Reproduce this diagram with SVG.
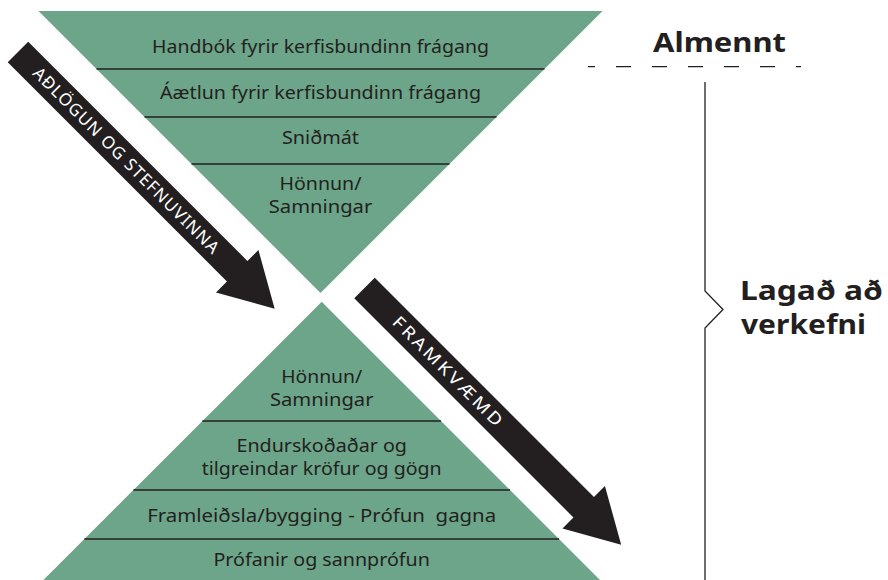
<svg xmlns="http://www.w3.org/2000/svg" width="888" height="580" viewBox="0 0 888 580">
<style>
.bg{fill:#ffffff}
.tri{fill:#6ca589}
.div{stroke:#231f20;stroke-width:1.5;fill:none}
.t{font-family:"Noto Sans","Open Sans","Liberation Sans",sans-serif;font-size:18px;fill:#231f20;text-anchor:middle}
.at{font-family:"Noto Sans","Open Sans","Liberation Sans",sans-serif;font-size:17px;fill:#ffffff;text-anchor:middle}
.bt{font-family:"Noto Sans","Open Sans","Liberation Sans",sans-serif;font-weight:700;fill:#231f20}
.ln{stroke:#231f20;stroke-width:1.3;fill:none}
.arrow{fill:#231f20}
</style>
<defs>
<path id="arrowShape" class="arrow" d="M0,-14.5 L310,-14.5 L310,-30 L363,0 L310,30 L310,14.5 L0,14.5 Z"/>
</defs>
<rect class="bg" x="0" y="0" width="888" height="580"/>

<g id="top-pyramid">
<polygon class="tri" points="38.5,11 602.5,11 320.5,293"/>
<line class="div" x1="96.5" y1="69" x2="544.5" y2="69"/>
<line class="div" x1="144.5" y1="117" x2="496.5" y2="117"/>
<line class="div" x1="191.5" y1="164" x2="449.5" y2="164"/>
<text class="t" x="320.5" y="53" textLength="337" lengthAdjust="spacingAndGlyphs">Handbók fyrir kerfisbundinn frágang</text>
<text class="t" x="320.5" y="98.5" textLength="321" lengthAdjust="spacingAndGlyphs">Áætlun fyrir kerfisbundinn frágang</text>
<text class="t" x="320.5" y="144" textLength="77" lengthAdjust="spacingAndGlyphs">Sniðmát</text>
<text class="t" x="320.5" y="190" textLength="82" lengthAdjust="spacingAndGlyphs">Hönnun/</text>
<text class="t" x="320.5" y="213" textLength="103.5" lengthAdjust="spacingAndGlyphs">Samningar</text>
</g>

<g id="bottom-pyramid">
<polygon class="tri" points="321.7,301.7 612,592 31.4,592"/>
<line class="div" x1="202.4" y1="421" x2="441" y2="421"/>
<line class="div" x1="133.4" y1="490" x2="510" y2="490"/>
<line class="div" x1="84.4" y1="539" x2="559" y2="539"/>
<text class="t" x="321.7" y="383" textLength="81" lengthAdjust="spacingAndGlyphs">Hönnun/</text>
<text class="t" x="321.7" y="406" textLength="103.6" lengthAdjust="spacingAndGlyphs">Samningar</text>
<text class="t" x="321.7" y="452" textLength="170.5" lengthAdjust="spacingAndGlyphs">Endurskoðaðar og</text>
<text class="t" x="321.7" y="475" textLength="240" lengthAdjust="spacingAndGlyphs">tilgreindar kröfur og gögn</text>
<text class="t" x="321.7" y="521.5" textLength="349" lengthAdjust="spacingAndGlyphs" xml:space="preserve">Framleiðsla/bygging - Prófun  gagna</text>
<text class="t" x="321.7" y="566" textLength="216.5" lengthAdjust="spacingAndGlyphs">Prófanir og sannprófun</text>
</g>

<g id="connectors">
<g id="arrow-adlogun" transform="translate(18,52) rotate(45)">
<use href="#arrowShape"/>
<text class="at" x="153" y="6" textLength="255">AÐLÖGUN OG STEFNUVINNA</text>
</g>
<g id="arrow-framkvaemd" transform="translate(364.5,288) rotate(45)">
<use href="#arrowShape"/>
<text class="at" x="119" y="6" letter-spacing="2.5" textLength="150" lengthAdjust="spacingAndGlyphs">FRAMKVÆMD</text>
</g>
<g id="divider-dashed">
<line class="ln" x1="588" y1="66.7" x2="801" y2="66.7" stroke-dasharray="15 21" stroke-dashoffset="8"/>
</g>
<g id="bracket">
<path class="ln" d="M705,82 V291 L723,309.5 L705,328 V580"/>
</g>
</g>

<g id="label-almennt">
<text class="bt" x="653" y="51.7" font-size="27" textLength="133" lengthAdjust="spacingAndGlyphs">Almennt</text>
</g>
<g id="label-lagad">
<text class="bt" x="740" y="300" font-size="26" textLength="143" lengthAdjust="spacingAndGlyphs">Lagað að</text>
<text class="bt" x="741" y="334" font-size="26" textLength="125" lengthAdjust="spacingAndGlyphs">verkefni</text>
</g>
</svg>
